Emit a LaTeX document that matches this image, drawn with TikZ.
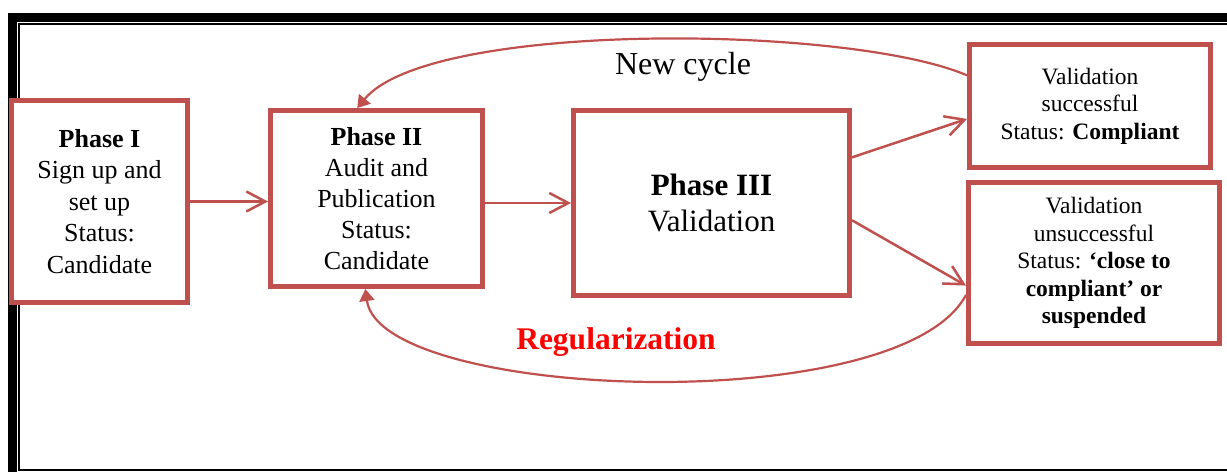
\documentclass[tikz,border=0pt]{standalone}
\usepackage{fontspec}
\setmainfont{Liberation Serif}
\usetikzlibrary{arrows.meta}
\definecolor{boxred}{HTML}{C0504D}
\definecolor{labred}{HTML}{FF0000}
\begin{document}
\begin{tikzpicture}[x=1pt,y=-1pt,
  phasebox/.style={draw=boxred,line width=5pt,fill=white,rectangle,align=center,inner sep=0pt},
  conn/.style={draw=boxred,line width=2.5pt,-{Straight Barb[length=19pt,width=20pt]}},
  loopconn/.style={draw=boxred,line width=2.2pt,-{Triangle[length=12pt,width=15pt]}}]
\useasboundingbox (0,0) rectangle (1227,472);
% frame
\fill[black] (8.3,13.3) rectangle (16.7,472);
\fill[black] (8.3,13.3) rectangle (1227,21.7);
\draw[black,line width=2pt] (1227,23.7) -- (19.3,23.7) -- (19.3,469.7) -- (1227,469.7);
% boxes
\node[phasebox,minimum width=176pt,minimum height=202pt,font=\fontsize{26}{31.5}\selectfont] (p1) at (99.5,201.5)
  {\textbf{Phase I}\\Sign up and\\set up\\Status:\\Candidate};
\node[phasebox,minimum width=212pt,minimum height=176pt,font=\fontsize{26}{31}\selectfont] (p2) at (376.5,198.5)
  {\textbf{Phase II}\\Audit and\\Publication\\Status:\\Candidate};
\node[phasebox,minimum width=276pt,minimum height=185pt,font=\fontsize{31}{36}\selectfont] (p3) at (711.5,203)
  {\textbf{Phase III}\\Validation};
\node[phasebox,minimum width=241pt,minimum height=123pt,font=\fontsize{23.5}{27.5}\selectfont] (r1) at (1090,106)
  {Validation\\successful\\Status: \textbf{Compliant}};
\node[phasebox,minimum width=251pt,minimum height=161pt,font=\fontsize{23.5}{27.5}\selectfont] (r2) at (1094,263)
  {Validation\\unsuccessful\\Status: \textbf{`close to}\\\textbf{compliant' or}\\\textbf{suspended}};
% connectors
\draw[conn] (p1.east) -- (p2.west |- p1.east);
\draw[conn] (p2.east |- p3.west) -- (p3.west);
\draw[conn] (p3.18) -- (r1.186);
\draw[conn] (p3.-7) -- (r2.190);
\draw[loopconn] (r1.166) .. controls (850,25) and (430,20) .. (p2.102);
\draw[loopconn] (r2.194) .. controls (900,420) and (380,400) .. (p2.263);
% labels
\node[font=\fontsize{32}{36}\selectfont] (nc) at (683,67) {New cycle};
\node[font=\fontsize{31.5}{36}\selectfont\bfseries,text=labred] (rg) at (616,342) {Regularization};
\end{tikzpicture}
\end{document}
